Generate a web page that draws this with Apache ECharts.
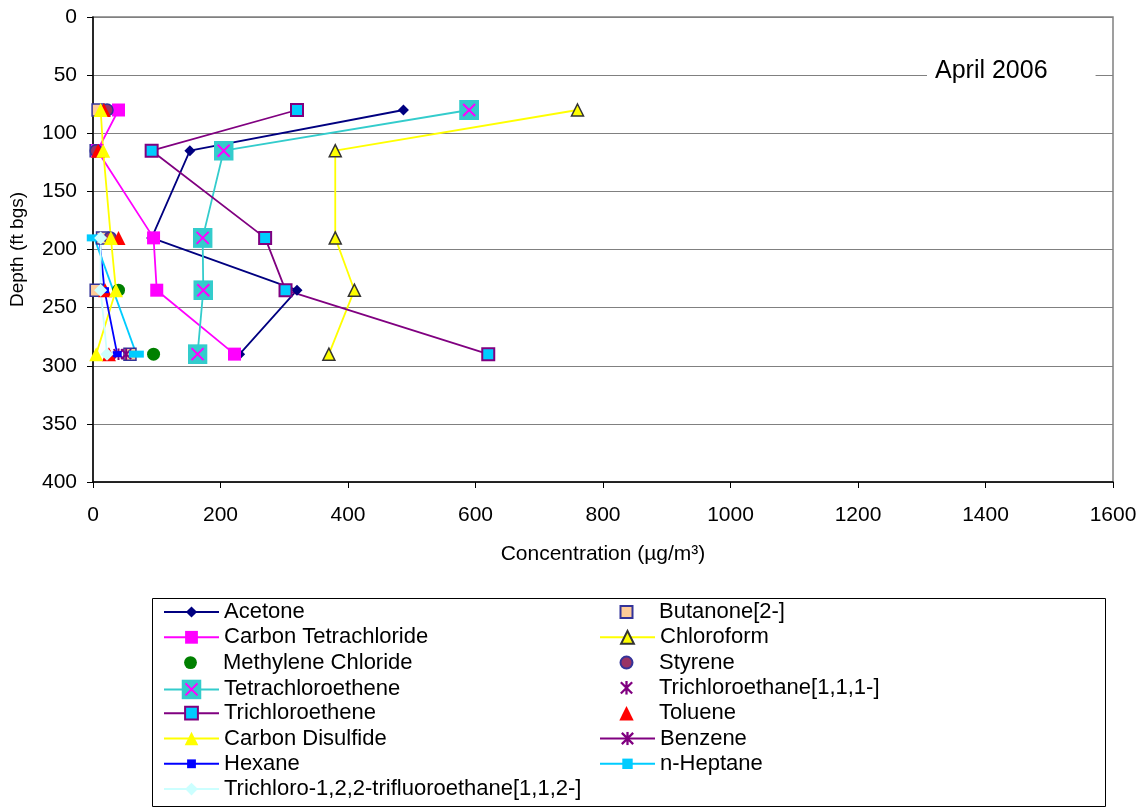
<!DOCTYPE html>
<html>
<head>
<meta charset="utf-8">
<script src="https://cdn.jsdelivr.net/npm/echarts@6/dist/echarts.min.js"></script>
<style>html,body{margin:0;padding:0;background:#fff}#c{width:1142px;height:810px}</style>
</head>
<body>
<div id="c"></div>
<script>
// ---- data ----
const depths = [80, 115, 190, 235, 290];
const acetone = [487, 152, 92, 320, 230];
const butanone = [8, 5, 15, 5, 58];
const carbonTet = [40, 7, 95, 100, 222];
const chloroform = [760, 380, 380, 410, 370];
const methyleneChloride = [null, null, null, 40, 95];
const styrene = [22, 5, 27, null, null];
const tetrachloroethene = [590, 205, 172, 173, 164];
const trichloroethane111 = [null, null, null, null, 40];
const trichloroethene = [320, 92, 270, 302, 620];
const toluene = [17, 8, 40, 19, 25];
const carbonDisulfide = [12, 16, 28, 36, 5];
const benzene = [null, null, null, null, 52];
const hexane = [null, null, 10, 18, 38];
const nHeptane = [null, null, 2, null, 68];
const trifluoroethane = [null, null, 12, 12, 22];
const xTicks = [0, 200, 400, 600, 800, 1000, 1200, 1400, 1600];
const yTicks = [0, 50, 100, 150, 200, 250, 300, 350, 400];

function pts(vals) {
  const out = [];
  vals.forEach((v, i) => { if (v !== null) out.push([v, depths[i]]); });
  return out;
}
function svg(s) { return 'image://data:image/svg+xml;charset=utf-8,' + encodeURIComponent(s); }
const symTCE4 = svg("<svg xmlns='http://www.w3.org/2000/svg' width='20' height='20'><rect width='20' height='20' fill='#33cccc'/><path d='M4,4L16,16M16,4L4,16' stroke='#ff00ff' stroke-width='2'/></svg>");
const symAster = svg("<svg xmlns='http://www.w3.org/2000/svg' width='12' height='12'><path d='M1,1L11,11M11,1L1,11M6,0L6,12' stroke='#800080' stroke-width='2'/></svg>");

function lineS(name, vals, color, symbol, size, itemStyle, noLine) {
  return { name, type: 'line', data: pts(vals), symbol, symbolSize: size,
    lineStyle: noLine ? { color, width: 0, opacity: 0 } : { color, width: 1.8 },
    itemStyle: Object.assign({ color }, itemStyle || {}),
    emphasis: { disabled: true }, animation: false, z: 3 };
}

const series = [
  lineS('Acetone', acetone, '#000080', 'diamond', 11),
  lineS('Butanone[2-]', butanone, '#ffcc99', 'rect', 12, { borderColor: '#333399', borderWidth: 1.5 }, true),
  lineS('Carbon Tetrachloride', carbonTet, '#ff00ff', 'rect', 13),
  lineS('Chloroform', chloroform, '#ffff00', 'triangle', 12, { borderColor: '#333333', borderWidth: 1.5 }),
  lineS('Methylene Chloride', methyleneChloride, '#008000', 'circle', 13, {}, true),
  lineS('Styrene', styrene, '#993366', 'circle', 12, { borderColor: '#333399', borderWidth: 1.5 }, true),
  lineS('Tetrachloroethene', tetrachloroethene, '#33cccc', symTCE4, 20),
  lineS('Trichloroethane[1,1,1-]', trichloroethane111, '#800080', symAster, 12, {}, true),
  lineS('Trichloroethene', trichloroethene, '#800080', 'rect', 12, { color: '#00ccff', borderColor: '#800080', borderWidth: 2 }),
  lineS('Toluene', toluene, '#ff0000', 'triangle', 14, {}, true),
  lineS('Carbon Disulfide', carbonDisulfide, '#ffff00', 'triangle', 14),
  lineS('Benzene', benzene, '#800080', symAster, 12),
  lineS('Hexane', hexane, '#0000ff', 'rect', [9, 6]),
  lineS('n-Heptane', nHeptane, '#00ccff', 'rect', [15, 7]),
  lineS('Trichloro-1,2,2-trifluoroethane[1,1,2-]', trifluoroethane, '#ccffff', 'diamond', 13)
];

// legend layout: [name, column, row, iconHeight]
const legendItems = [
  ['Acetone', 0, 0, 14], ['Carbon Tetrachloride', 0, 1, 16], ['Methylene Chloride', 0, 2, 16],
  ['Tetrachloroethene', 0, 3, 25], ['Trichloroethene', 0, 4, 16], ['Carbon Disulfide', 0, 5, 17],
  ['Hexane', 0, 6, 11], ['Trichloro-1,2,2-trifluoroethane[1,1,2-]', 0, 7, 16],
  ['Butanone[2-]', 1, 0, 15], ['Chloroform', 1, 1, 16], ['Styrene', 1, 2, 15],
  ['Trichloroethane[1,1,1-]', 1, 3, 17], ['Toluene', 1, 4, 18], ['Benzene', 1, 5, 17], ['n-Heptane', 1, 6, 13]
];
const font = 'Liberation Sans, Arial, sans-serif';
const legendFont = 22;
const legends = legendItems.map(([name, col, row, h]) => {
  const cy = 613 + row * 25.3;
  const boxH = Math.max(h, 24);
  return { data: [name], orient: 'vertical', padding: 0, itemGap: 0, selectedMode: false,
    itemWidth: 55, itemHeight: h, left: col === 0 ? 163 : 599, top: cy - boxH / 2 + (h > 24 ? 2 : 0),
    textStyle: { fontFamily: font, fontSize: legendFont, color: '#000', padding: [0, 0, 0, 0] } };
});

const chart = echarts.init(document.getElementById('c'), null, { renderer: 'canvas' });
chart.setOption({
  backgroundColor: '#fff',
  animation: false,
  grid: { left: 92, top: 17, width: 1021, height: 465, show: true, borderColor: '#808080', borderWidth: 1.5, backgroundColor: 'transparent' },
  xAxis: { type: 'value', min: 0, max: 1600, interval: 200,
    name: 'Concentration (µg/m³)', nameLocation: 'middle', nameGap: 62,
    nameTextStyle: { fontFamily: font, fontSize: 21, color: '#000' },
    axisLine: { onZero: false, lineStyle: { color: '#000', width: 1.5 } },
    axisTick: { show: true, length: 6, lineStyle: { color: '#000' } },
    axisLabel: { fontFamily: font, fontSize: 21, color: '#000', margin: 23, formatter: v => String(v) },
    splitLine: { show: false } },
  yAxis: { type: 'value', inverse: true, min: 0, max: 400, interval: 50,
    name: 'Depth (ft bgs)', nameLocation: 'middle', nameGap: 66, nameRotate: 90,
    nameTextStyle: { fontFamily: font, fontSize: 19, color: '#000' },
    axisLine: { onZero: false, lineStyle: { color: '#000', width: 1.5 } },
    axisTick: { show: true, length: 6, lineStyle: { color: '#000' } },
    axisLabel: { fontFamily: font, fontSize: 21, color: '#000', margin: 16, formatter: v => String(v) },
    splitLine: { show: true, lineStyle: { color: '#808080', width: 1 } } },
  legend: legends,
  graphic: [
    { type: 'rect', shape: { x: 152.5, y: 598.5, width: 953, height: 208 }, style: { fill: '#fff', stroke: '#000', lineWidth: 1 }, z: -1 },
    { type: 'text', left: 927, top: 57, z: 10,
      style: { text: 'April 2006', font: '25px ' + font, fill: '#000', backgroundColor: '#fff', padding: [2, 48, 2, 8] } }
  ],
  series
});
</script>
</body>
</html>
